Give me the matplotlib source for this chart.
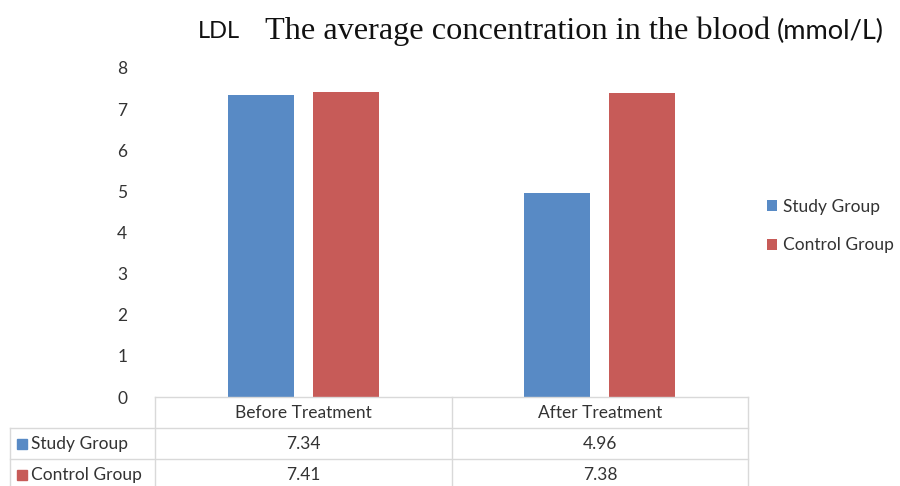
import numpy as np
import matplotlib.pyplot as plt
from matplotlib.patches import Rectangle

# data
categories = ['Before Treatment', 'After Treatment']
series = ['Study Group', 'Control Group']
study = [7.34, 4.96]
control = [7.41, 7.38]
colors = ['#588AC5', '#C75B58']

W, H = 900, 486
fig = plt.figure(figsize=(W / 100, H / 100), dpi=100)
sans = ['Lato', 'DejaVu Sans']
fs = 12.5

def fx(px):
    return px / W

def fy(py):
    return 1 - py / H

# main bar axes, placed to line up with the table columns
ax = fig.add_axes([fx(155), fy(397), fx(748) - fx(155), fy(68) - fy(397)])
x = np.arange(len(categories)) + 0.5
w = 0.223
b1 = ax.bar(x - 0.143, study, w, color=colors[0], label=series[0])
b2 = ax.bar(x + 0.143, control, w, color=colors[1], label=series[1])
ax.set_xlim(0, len(categories))
ax.set_ylim(0, 8)
ax.set_yticks(range(0, 9))
ax.set_xticks([])
ax.tick_params(axis='y', length=0, pad=20, labelsize=fs, colors='#333333')
for lbl in ax.get_yticklabels():
    lbl.set_family(sans)
for s in ax.spines.values():
    s.set_visible(False)

# overlay in pixel coords for title and data table
ov = fig.add_axes([0, 0, 1, 1])
ov.set_xlim(0, W)
ov.set_ylim(H, 0)
ov.axis('off')

ov.text(198, 31, 'LDL', fontsize=17, family=sans, va='center', ha='left', color='#111111')
ov.text(265, 31, 'The average concentration in the blood', fontsize=23.2,
        family=['Liberation Serif', 'DejaVu Serif'], va='center', ha='left', color='#111111')
ov.text(884, 31, '(mmol/L)', fontsize=19.5, family=sans, va='center', ha='right', color='#111111')

# table grid
grid_c = '#D9D9D9'
col_x = [155, 452, 748]
row_y = [397, 428, 459, 490]
ov.plot([155, 748], [397, 397], color=grid_c, lw=1)
for yy in row_y[1:3]:
    ov.plot([10, 748], [yy, yy], color=grid_c, lw=1)
for xx in col_x:
    ov.plot([xx, xx], [397, 490], color=grid_c, lw=1)
ov.plot([10, 10], [428, 490], color=grid_c, lw=1)

# header and values
for i, cat in enumerate(categories):
    cx = (col_x[i] + col_x[i + 1]) / 2
    ov.text(cx, 413, cat, ha='center', va='center', fontsize=fs, family=sans, color='#333333')
    for r, vals in enumerate([study, control]):
        ov.text(cx, 444 + 31 * r, f'{vals[i]:.2f}', ha='center', va='center',
                fontsize=fs, family=sans, color='#333333')
for r, name in enumerate(series):
    yc = 444 + 31 * r
    ov.add_patch(Rectangle((17, yc - 5), 10, 10, color=colors[r]))
    ov.text(31, yc, name, ha='left', va='center', fontsize=fs, family=sans, color='#333333')

leg = fig.legend(handles=[b1, b2], loc='center left', bbox_to_anchor=(fx(767), fy(226)),
                 frameon=False, borderpad=0, borderaxespad=0,
                 handlelength=0.6, handleheight=0.6, handletextpad=0.35,
                 labelspacing=1.3, prop={'family': sans, 'size': fs})
for t in leg.get_texts():
    t.set_color('#333333')

fig.savefig('out.png', dpi=100)
